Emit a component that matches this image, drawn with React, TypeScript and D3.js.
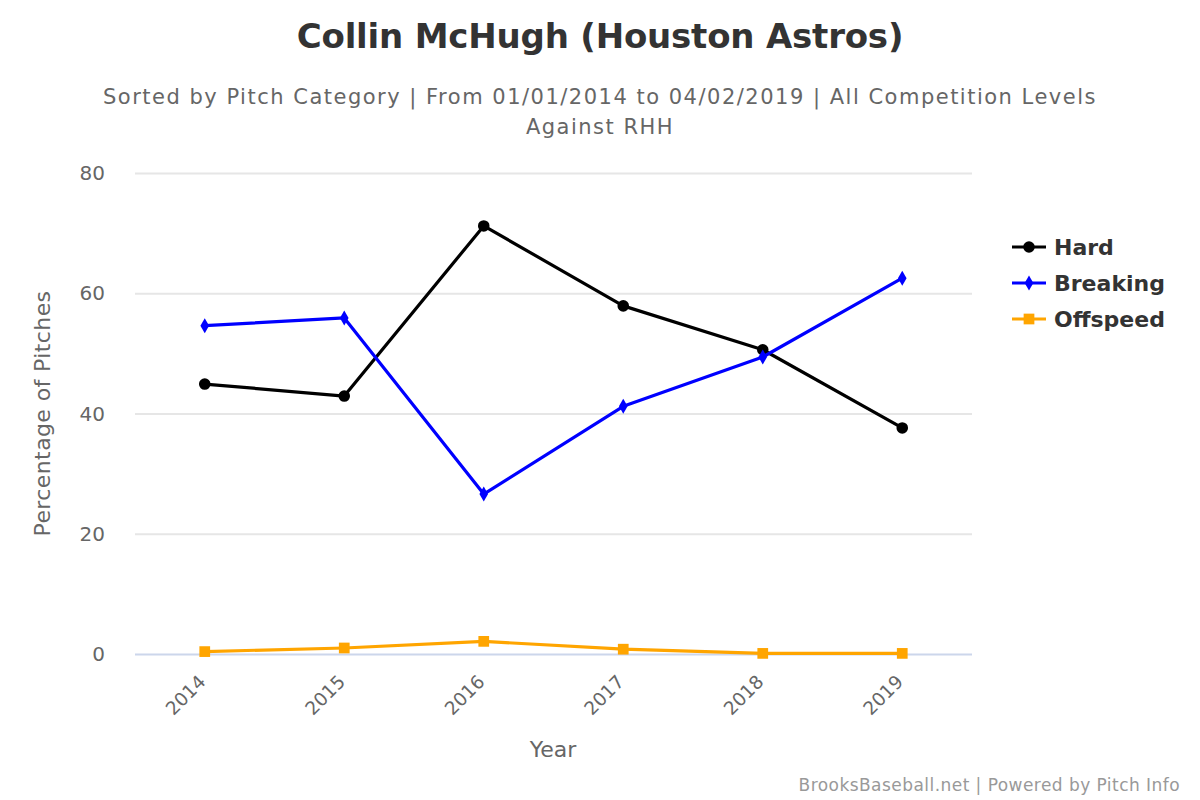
import * as d3 from "d3";
import { useEffect, useRef } from "react";

const years = ["2014", "2015", "2016", "2017", "2018", "2019"];
const hard = [44.9, 42.9, 71.2, 57.9, 50.6, 37.6];
const breaking = [54.6, 55.9, 26.6, 41.2, 49.4, 62.5];
const offspeed = [0.4, 1.0, 2.1, 0.8, 0.1, 0.1];
const yTicks = [0, 20, 40, 60, 80];

interface Series {
  name: string;
  values: number[];
  color: string;
  symbol: d3.SymbolType;
  size: number;
}

const series: Series[] = [
  { name: "Hard", values: hard, color: "#000000", symbol: d3.symbolCircle, size: 105 },
  { name: "Breaking", values: breaking, color: "#0000ff", symbol: d3.symbolDiamond, size: 65 },
  { name: "Offspeed", values: offspeed, color: "#ffa500", symbol: d3.symbolSquare, size: 115 },
];

const FONT = "'DejaVu Sans', 'Lucida Grande', sans-serif";

export default function App() {
  const svgRef = useRef<SVGSVGElement>(null);

  useEffect(() => {
    if (!svgRef.current) return;
    const width = 1200;
    const height = 800;
    const svg = d3.select<SVGSVGElement, unknown>(svgRef.current);
    svg.selectAll("*").remove();
    svg.attr("width", width).attr("height", height);

    svg.append("rect").attr("width", width).attr("height", height).attr("fill", "#ffffff");

    const left = 135;
    const right = 972;
    const top = 173;
    const bottom = 654;

    const x = d3.scaleBand().domain(years).range([left, right]);
    const y = d3.scaleLinear().domain([0, 80]).range([bottom, top]);
    const cx = (i: number) => (x(years[i]) as number) + x.bandwidth() / 2;

    // Title
    svg
      .append("text")
      .attr("x", 600)
      .attr("y", 48)
      .attr("text-anchor", "middle")
      .attr("font-family", FONT)
      .attr("font-weight", "bold")
      .attr("font-size", "34px")
      .attr("letter-spacing", "-0.2px")
      .attr("fill", "#333333")
      .text("Collin McHugh (Houston Astros)");

    const sub = svg
      .append("text")
      .attr("text-anchor", "middle")
      .attr("font-family", FONT)
      .attr("font-size", "21px")
      .attr("letter-spacing", "1.5px")
      .attr("fill", "#666666");
    sub
      .append("tspan")
      .attr("x", 600)
      .attr("y", 104)
      .text("Sorted by Pitch Category | From 01/01/2014 to 04/02/2019 | All Competition Levels");
    sub.append("tspan").attr("x", 600).attr("y", 134).text("Against RHH");

    // Grid
    svg
      .append("g")
      .selectAll("line")
      .data(yTicks.filter((t) => t !== 0))
      .enter()
      .append("line")
      .attr("x1", left)
      .attr("x2", right)
      .attr("y1", (d) => y(d) + 0.5)
      .attr("y2", (d) => y(d) + 0.5)
      .attr("stroke", "#e6e6e6")
      .attr("stroke-width", 2);

    // Y axis labels
    svg
      .append("g")
      .selectAll("text")
      .data(yTicks)
      .enter()
      .append("text")
      .attr("x", 105)
      .attr("y", (d) => y(d) + 7)
      .attr("text-anchor", "end")
      .attr("font-family", FONT)
      .attr("font-size", "20px")
      .attr("fill", "#666666")
      .text((d) => d);

    // X axis line
    svg
      .append("line")
      .attr("x1", left)
      .attr("x2", right)
      .attr("y1", bottom + 0.5)
      .attr("y2", bottom + 0.5)
      .attr("stroke", "#ccd6eb")
      .attr("stroke-width", 2);

    // X labels
    svg
      .append("g")
      .selectAll("text")
      .data(years)
      .enter()
      .append("text")
      .attr("text-anchor", "end")
      .attr("font-family", FONT)
      .attr("font-size", "18.5px")
      .attr("fill", "#666666")
      .attr("transform", (d) => `translate(${(x(d) as number) + x.bandwidth() / 2 + 2},${bottom + 29}) rotate(-45)`)
      .text((d) => d);

    // Axis titles
    svg
      .append("text")
      .attr("x", 553)
      .attr("y", 757)
      .attr("text-anchor", "middle")
      .attr("font-family", FONT)
      .attr("font-size", "22px")
      .attr("fill", "#666666")
      .text("Year");

    svg
      .append("text")
      .attr("transform", `translate(50,${(top + bottom) / 2}) rotate(-90)`)
      .attr("text-anchor", "middle")
      .attr("font-family", FONT)
      .attr("font-size", "22px")
      .attr("letter-spacing", "0.4px")
      .attr("fill", "#666666")
      .text("Percentage of Pitches");

    // Series
    const line = d3
      .line<number>()
      .x((_, i) => cx(i))
      .y((d) => y(d));

    series.forEach((s) => {
      const g = svg.append("g");
      g.append("path")
        .attr("d", line(s.values))
        .attr("fill", "none")
        .attr("stroke", s.color)
        .attr("stroke-width", 3.2)
        .attr("stroke-linejoin", "round");
      g.selectAll("path.pt")
        .data(s.values)
        .enter()
        .append("path")
        .attr("class", "pt")
        .attr("d", d3.symbol().type(s.symbol).size(s.size)())
        .attr("transform", (d, i) => `translate(${cx(i)},${y(d)})`)
        .attr("fill", s.color);
    });

    // Legend
    const legend = svg
      .append("g")
      .selectAll("g")
      .data(series)
      .enter()
      .append("g")
      .attr("transform", (_, i) => `translate(1012,${247 + i * 36})`);
    legend
      .append("line")
      .attr("x1", 0)
      .attr("x2", 34)
      .attr("stroke", (d) => d.color)
      .attr("stroke-width", 3.2);
    legend
      .append("path")
      .attr("d", (d) => d3.symbol().type(d.symbol).size(d.size)())
      .attr("transform", "translate(17,0)")
      .attr("fill", (d) => d.color);
    legend
      .append("text")
      .attr("x", 42)
      .attr("y", 8)
      .attr("font-family", FONT)
      .attr("font-weight", "bold")
      .attr("font-size", "22px")
      .attr("fill", "#333333")
      .text((d) => d.name);

    // Credits
    svg
      .append("text")
      .attr("x", 1180)
      .attr("y", 791)
      .attr("text-anchor", "end")
      .attr("font-family", FONT)
      .attr("font-size", "17px")
      .attr("letter-spacing", "0.45px")
      .attr("fill", "#999999")
      .text("BrooksBaseball.net | Powered by Pitch Info");
  }, []);

  return <svg ref={svgRef} style={{ position: "absolute", left: 0, top: 0 }}></svg>;
}
